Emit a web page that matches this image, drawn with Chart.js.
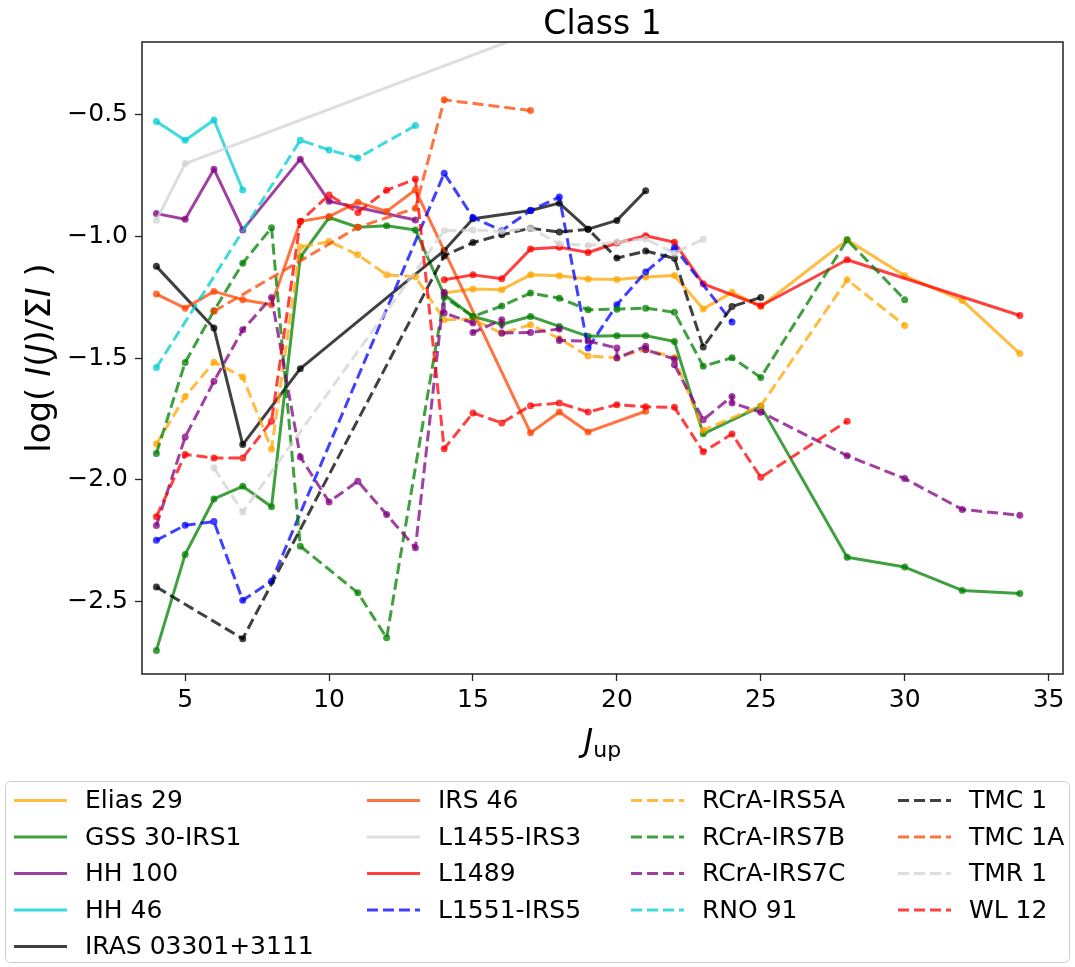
<!DOCTYPE html>
<html>
<head>
<meta charset="utf-8">
<script src="https://cdn.jsdelivr.net/npm/chart.js@4.4.1/dist/chart.umd.min.js"></script>
<style>
  html, body { margin: 0; padding: 0; background: #fff; }
  canvas { display: block; }
</style>
</head>
<body>
<canvas id="chart" width="1075" height="967"></canvas>
<script>
// Upper rotational level J_up and normalised line intensity log(I(J)/ΣI) per source
const elias29J = [14, 15, 16, 17, 18, 19, 20, 21, 22, 23, 24, 25, 28, 30, 32, 34];
const elias29 = [-1.233, -1.216, -1.219, -1.158, -1.162, -1.175, -1.177, -1.167, -1.161, -1.298, -1.230, -1.288, -1.014, -1.162, -1.263, -1.482];

const gss30J = [4, 5, 6, 7, 8, 9, 10, 11, 12, 13, 14, 15, 16, 17, 18, 19, 20, 21, 22, 23, 25, 28, 30, 32, 34];
const gss30 = [-2.703, -2.308, -2.080, -2.028, -2.112, -1.085, -0.922, -0.962, -0.956, -0.973, -1.240, -1.329, -1.361, -1.329, -1.370, -1.411, -1.408, -1.408, -1.432, -1.812, -1.699, -2.320, -2.360, -2.456, -2.469];

const hh100J = [4, 5, 6, 7, 9, 10, 13];
const hh100 = [-0.906, -0.929, -0.723, -0.973, -0.682, -0.855, -0.932];

const hh46J = [4, 5, 6, 7];
const hh46 = [-0.527, -0.604, -0.521, -0.809];

const iras03301J = [4, 6, 7, 9, 14, 15, 17, 18, 19, 20, 21];
const iras03301 = [-1.123, -1.377, -1.856, -1.544, -1.058, -0.927, -0.893, -0.863, -0.970, -0.934, -0.812];

const irs46J = [4, 5, 6, 7, 8, 9, 10, 11, 12, 13, 17, 18, 19, 21];
const irs46 = [-1.237, -1.295, -1.226, -1.260, -1.281, -0.938, -0.918, -0.859, -0.897, -0.808, -1.808, -1.722, -1.804, -1.719];

const l1455J = [4, 5, 20];
const l1455 = [-0.933, -0.700, -0.030];

const l1489J = [14, 15, 16, 17, 18, 19, 20, 21, 22, 23, 25, 28, 34];
const l1489 = [-1.178, -1.158, -1.174, -1.052, -1.044, -1.066, -1.027, -0.997, -1.024, -1.195, -1.285, -1.096, -1.325];

const l1551J = [4, 5, 6, 7, 8, 14, 15, 16, 17, 18, 19, 20, 21, 22, 24];
const l1551 = [-2.250, -2.188, -2.173, -2.497, -2.418, -0.740, -0.922, -0.976, -0.893, -0.838, -1.459, -1.281, -1.146, -1.046, -1.352];

const irs5aJ = [4, 5, 6, 7, 8, 9, 10, 11, 12, 13, 14, 15, 16, 17, 18, 19, 20, 21, 22, 23, 25, 28, 30];
const irs5a = [-1.854, -1.658, -1.517, -1.578, -1.874, -1.043, -1.021, -1.075, -1.158, -1.166, -1.343, -1.340, -1.399, -1.363, -1.420, -1.492, -1.499, -1.465, -1.498, -1.797, -1.697, -1.178, -1.366];

const irs7bJ = [4, 5, 6, 7, 8, 9, 11, 12, 14, 15, 16, 17, 18, 19, 20, 21, 22, 23, 24, 25, 28, 30];
const irs7b = [-1.893, -1.518, -1.306, -1.110, -0.964, -2.274, -2.466, -2.651, -1.250, -1.329, -1.286, -1.233, -1.254, -1.302, -1.299, -1.295, -1.312, -1.534, -1.499, -1.580, -1.014, -1.260];

const irs7cJ = [4, 5, 6, 7, 8, 9, 10, 11, 12, 13, 14, 14, 15, 15, 16, 16, 17, 18, 18, 19, 20, 20, 21, 21, 22, 22, 23, 24, 24, 25, 28, 30, 32, 34];
const irs7c = [-2.189, -1.825, -1.596, -1.384, -1.251, -1.907, -2.092, -2.007, -2.144, -2.281, -1.230, -1.315, -1.356, -1.395, -1.343, -1.397, -1.395, -1.381, -1.428, -1.430, -1.459, -1.500, -1.452, -1.466, -1.504, -1.528, -1.754, -1.658, -1.685, -1.723, -1.902, -1.996, -2.123, -2.147];

const rno91J = [4, 9, 10, 11, 13];
const rno91 = [-1.539, -0.604, -0.644, -0.677, -0.544];

const tmc1J = [4, 7, 14, 15, 16, 17, 18, 19, 20, 21, 22, 23, 24, 25];
const tmc1 = [-2.442, -2.655, -1.080, -1.025, -0.993, -0.966, -0.982, -0.970, -1.089, -1.060, -1.090, -1.455, -1.288, -1.251];

const tmc1aJ = [6, 11, 13, 14, 17];
const tmc1a = [-1.308, -0.962, -0.884, -0.438, -0.482];

const tmr1J = [6, 7, 14, 15, 16, 17, 18, 19, 20, 21, 22, 23];
const tmr1 = [-1.952, -2.134, -0.977, -0.973, -0.979, -0.966, -1.030, -1.037, -1.023, -1.010, -1.069, -1.011];

const wl12J = [4, 5, 6, 7, 8, 9, 10, 11, 12, 13, 14, 15, 16, 17, 18, 19, 20, 21, 22, 23, 24, 25, 28];
const wl12 = [-2.153, -1.897, -1.911, -1.911, -1.760, -0.938, -0.829, -0.901, -0.810, -0.764, -1.873, -1.726, -1.767, -1.696, -1.685, -1.722, -1.692, -1.701, -1.703, -1.886, -1.813, -1.991, -1.760];

const xTicks = [5, 10, 15, 20, 25, 30, 35];
const yTicks = [-2.5, -2.0, -1.5, -1.0, -0.5];

// Source list: name, data, colour, line style
const ORANGE = [255, 165, 0], GREEN = [0, 128, 0], PURPLE = [128, 0, 128], TURQ = [0, 206, 209];
const BLACK = [0, 0, 0], ORANGERED = [255, 69, 0], LGRAY = [211, 211, 211], RED = [255, 0, 0], BLUE = [0, 0, 255];

const sources = [
  { label: 'Elias 29', j: elias29J, v: elias29, rgb: ORANGE, dashed: false },
  { label: 'GSS 30-IRS1', j: gss30J, v: gss30, rgb: GREEN, dashed: false },
  { label: 'HH 100', j: hh100J, v: hh100, rgb: PURPLE, dashed: false },
  { label: 'HH 46', j: hh46J, v: hh46, rgb: TURQ, dashed: false },
  { label: 'IRAS 03301+3111', j: iras03301J, v: iras03301, rgb: BLACK, dashed: false },
  { label: 'IRS 46', j: irs46J, v: irs46, rgb: ORANGERED, dashed: false },
  { label: 'L1455-IRS3', j: l1455J, v: l1455, rgb: LGRAY, dashed: false },
  { label: 'L1489', j: l1489J, v: l1489, rgb: RED, dashed: false },
  { label: 'L1551-IRS5', j: l1551J, v: l1551, rgb: BLUE, dashed: true },
  { label: 'RCrA-IRS5A', j: irs5aJ, v: irs5a, rgb: ORANGE, dashed: true },
  { label: 'RCrA-IRS7B', j: irs7bJ, v: irs7b, rgb: GREEN, dashed: true },
  { label: 'RCrA-IRS7C', j: irs7cJ, v: irs7c, rgb: PURPLE, dashed: true },
  { label: 'RNO 91', j: rno91J, v: rno91, rgb: TURQ, dashed: true },
  { label: 'TMC 1', j: tmc1J, v: tmc1, rgb: BLACK, dashed: true },
  { label: 'TMC 1A', j: tmc1aJ, v: tmc1a, rgb: ORANGERED, dashed: true },
  { label: 'TMR 1', j: tmr1J, v: tmr1, rgb: LGRAY, dashed: true },
  { label: 'WL 12', j: wl12J, v: wl12, rgb: RED, dashed: true }
];

const FONT = 'DejaVu Sans';
const ALPHA = 0.75;
const DASH = [11, 5];
const rgba = (c, a) => `rgba(${c[0]},${c[1]},${c[2]},${a})`;

const datasets = sources.map((s, i) => ({
  label: s.label,
  data: s.j.map((x, k) => ({ x: x, y: s.v[k] })),
  borderColor: rgba(s.rgb, ALPHA),
  backgroundColor: rgba(s.rgb, ALPHA),
  pointBackgroundColor: rgba(s.rgb, ALPHA),
  pointBorderColor: rgba(s.rgb, ALPHA),
  pointBorderWidth: 0,
  pointRadius: 3.5,
  borderWidth: 3,
  borderDash: s.dashed ? DASH : [],
  borderJoinStyle: 'round',
  borderCapStyle: 'butt',
  tension: 0,
  fill: false,
  order: -i
}));

// Draws a run of text pieces (plain / italic / smaller, shifted) centred on (x, y)
function drawRich(ctx, parts, x, y) {
  const fontOf = p => `${p.italic ? 'italic ' : ''}${p.size}px "${FONT}"`;
  let total = 0;
  parts.forEach(p => { ctx.font = fontOf(p); p.w = ctx.measureText(p.t).width; total += p.w; });
  let cx = x - total / 2;
  ctx.textAlign = 'left';
  ctx.textBaseline = 'alphabetic';
  parts.forEach(p => {
    ctx.font = fontOf(p);
    ctx.fillText(p.t, cx, y + (p.dy || 0));
    cx += p.w;
  });
}

const framePlugin = {
  id: 'frame',
  afterDatasetsDraw(chart) {
    const { ctx, chartArea: a } = chart;
    ctx.save();
    ctx.strokeStyle = '#222';
    ctx.lineWidth = 1.5;
    ctx.strokeRect(a.left, a.top, a.right - a.left, a.bottom - a.top);
    ctx.restore();
  }
};

const labelsPlugin = {
  id: 'labels',
  afterDraw(chart) {
    const { ctx, chartArea: a } = chart;
    const cx = (a.left + a.right) / 2;
    const cy = (a.top + a.bottom) / 2;
    ctx.save();
    ctx.fillStyle = '#000';
    // title
    drawRich(ctx, [{ t: 'Class 1', size: 33 }], cx, 34);
    // x axis title: J_up
    drawRich(ctx, [
      { t: 'J', size: 32, italic: true },
      { t: 'up', size: 22, dy: 6 }
    ], cx, 751);
    // y axis title: log( I(J)/ΣI )
    ctx.translate(50, cy);
    ctx.rotate(-Math.PI / 2);
    const ys = 34;
    drawRich(ctx, [
      { t: 'log( ', size: ys },
      { t: 'I', size: ys, italic: true },
      { t: '(', size: ys },
      { t: 'J', size: ys, italic: true },
      { t: ')/\u03A3', size: ys },
      { t: 'I', size: ys, italic: true },
      { t: ' )', size: ys }
    ], 0, 0);
    ctx.restore();
  }
};

const legendPlugin = {
  id: 'boxLegend',
  afterDraw(chart) {
    const { ctx } = chart;
    const box = { x: 5.5, y: 781.5, w: 1064, h: 181, r: 5 };
    ctx.save();
    ctx.beginPath();
    ctx.roundRect(box.x, box.y, box.w, box.h, box.r);
    ctx.fillStyle = 'rgba(255,255,255,0.8)';
    ctx.fill();
    ctx.strokeStyle = '#cccccc';
    ctx.lineWidth = 1;
    ctx.stroke();

    // column-major layout: first column holds 5 entries, the others 4
    const colSizes = [5, 4, 4, 4];
    const colX = [14, 367, 631, 898];
    const rowY0 = 800.5, rowStep = 36.5;
    const handleLen = 53, textGap = 71;
    ctx.font = `25px "${FONT}"`;
    ctx.textAlign = 'left';
    ctx.textBaseline = 'middle';
    let col = 0, row = 0;
    chart.data.datasets.forEach(ds => {
      const x = colX[col], y = rowY0 + row * rowStep;
      ctx.beginPath();
      ctx.setLineDash(ds.borderDash || []);
      ctx.lineWidth = ds.borderWidth;
      ctx.strokeStyle = ds.borderColor;
      ctx.lineCap = 'butt';
      ctx.moveTo(x, y);
      ctx.lineTo(x + handleLen, y);
      ctx.stroke();
      ctx.setLineDash([]);
      ctx.fillStyle = '#000';
      ctx.fillText(ds.label, x + textGap, y + 1);
      row++;
      if (row >= colSizes[col]) { row = 0; col++; }
    });
    ctx.restore();
  }
};

const fmt = v => (v < 0 ? '\u2212' : '') + Math.abs(v).toFixed(1);

new Chart(document.getElementById('chart'), {
  type: 'line',
  data: { datasets: datasets },
  options: {
    responsive: false,
    animation: false,
    layout: { padding: { top: 42, right: 12, bottom: 203, left: 0 } },
    plugins: {
      legend: { display: false },
      tooltip: { enabled: false },
      title: { display: false }
    },
    scales: {
      x: {
        type: 'linear',
        min: 3.5,
        max: 35.5,
        afterBuildTicks: s => { s.ticks = xTicks.map(v => ({ value: v })); },
        afterFit: s => { s.height = 90; },
        grid: { drawOnChartArea: false, drawTicks: true, tickLength: 7, tickWidth: 1.3, tickColor: '#222' },
        border: { display: false },
        ticks: { font: { family: FONT, size: 25 }, color: '#000', padding: 4, maxRotation: 0, autoSkip: false }
      },
      y: {
        type: 'linear',
        min: -2.8,
        max: -0.2,
        afterBuildTicks: s => { s.ticks = yTicks.map(v => ({ value: v })); },
        afterFit: s => { s.width = 142; },
        grid: { drawOnChartArea: false, drawTicks: true, tickLength: 7, tickWidth: 1.3, tickColor: '#222' },
        border: { display: false },
        ticks: { font: { family: FONT, size: 25 }, color: '#000', padding: 7, callback: fmt, autoSkip: false }
      }
    }
  },
  plugins: [framePlugin, labelsPlugin, legendPlugin]
});
</script>
</body>
</html>
